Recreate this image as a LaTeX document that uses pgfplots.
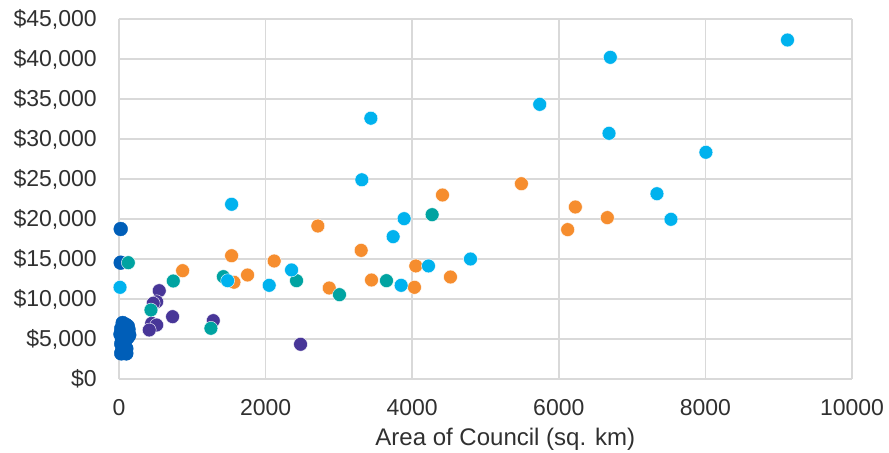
\documentclass[border=0pt]{standalone}
\usepackage{pgfplots}
\pgfplotsset{compat=1.18}
\usepackage{fontspec}
\setmainfont{Liberation Sans}
\definecolor{cDark}{HTML}{005EB8}
\definecolor{cLight}{HTML}{00B2EE}
\definecolor{cTeal}{HTML}{00A3A1}
\definecolor{cOrange}{HTML}{F68D2E}
\definecolor{cPurple}{HTML}{483698}
\definecolor{cGrid}{HTML}{D9D9D9}
\definecolor{cText}{HTML}{303030}
\begin{document}
\begin{tikzpicture}
\begin{axis}[
  scale only axis,
  width=549.75pt, height=270pt,
  xmin=0, xmax=10000, ymin=0, ymax=45000,
  xtick={0,2000,4000,6000,8000,10000},
  ytick={0,5000,10000,15000,20000,25000,30000,35000,40000,45000},
  scaled y ticks=false, scaled x ticks=false,
  /pgf/number format/assume math mode=true,
  x tick label style={/pgf/number format/1000 sep={}, anchor=north, inner sep=0pt, yshift=-15pt},
  yticklabel={\$\pgfmathprintnumber[1000 sep={,}]{\tick}},
  y tick label style={anchor=east, inner sep=0pt, xshift=-16.5pt},
  tick label style={font=\fontsize{17.25}{20}\selectfont, text=cText},
  major tick length=0pt,
  grid=major,
  major grid style={draw=cGrid, line width=1.1pt},
  axis x line*=bottom, axis y line*=left,
  axis line style={draw=cGrid, line width=1.1pt, -},
  xlabel={Area of Council (sq. km)},
  xlabel style={at={(axis description cs:0.527,0)}, anchor=north, inner sep=0pt, yshift=-36.5pt, font=\fontsize{18}{21}\selectfont, text=cText},
  clip=false,
  every axis plot/.append style={only marks, mark=*, mark size=5.2pt},
]
% dark blue
\addplot[mark options={fill=cDark, draw=cDark, line width=0.3pt}] coordinates {
(23,18750) (23,14540)
(50,7000) (90,6800) (120,6600) (30,6300) (70,6100) (110,5900) (130,6200)
(20,5600) (60,5400) (100,5300) (140,5500) (120,5200) (40,5000) (80,4700)
(30,4400) (60,4000) (100,3800) (40,3500) (30,3200) (100,3200)
};
% purple
\addplot[mark options={fill=cPurple, draw=white, line width=0.3pt}] coordinates {
(549,11040) (514,9660) (467,9460) (731,7790) (446,6960) (514,6750) (413,6125)
(1286,7290) (2477,4340)
};
% orange
\addplot[mark options={fill=cOrange, draw=white, line width=0.3pt}] coordinates {
(5490,24410) (4413,23000) (6226,21500) (6662,20170) (2713,19125) (6121,18670)
(3304,16080) (1536,15410) (2117,14750) (4049,14130) (868,13540) (1754,13000)
(4522,12750) (3445,12375) (1568,12100) (4031,11460) (2868,11375)
};
% teal
\addplot[mark options={fill=cTeal, draw=white, line width=0.3pt}] coordinates {
(4272,20540) (127,14540) (1424,12790) (3649,12290) (2422,12290) (741,12250)
(3008,10540) (436,8625) (1254,6340)
};
% light blue
\addplot[mark options={fill=cLight, draw=white, line width=0.3pt}] coordinates {
(9120,42375) (6703,40210) (5740,34330) (3436,32600) (6685,30710) (8007,28340)
(3313,24900) (7339,23160) (1536,21840) (3890,20040) (7530,19960) (3740,17790)
(4795,15000) (4222,14130) (2354,13630) (1482,12290) (2049,11710) (3849,11710)
(14,11460)
};
\end{axis}
\path[use as bounding box] ([xshift=-89.25pt,yshift=-55.5pt]current axis.south west) rectangle ([xshift=27.75pt,yshift=14.25pt]current axis.north east);
\end{tikzpicture}
\end{document}
